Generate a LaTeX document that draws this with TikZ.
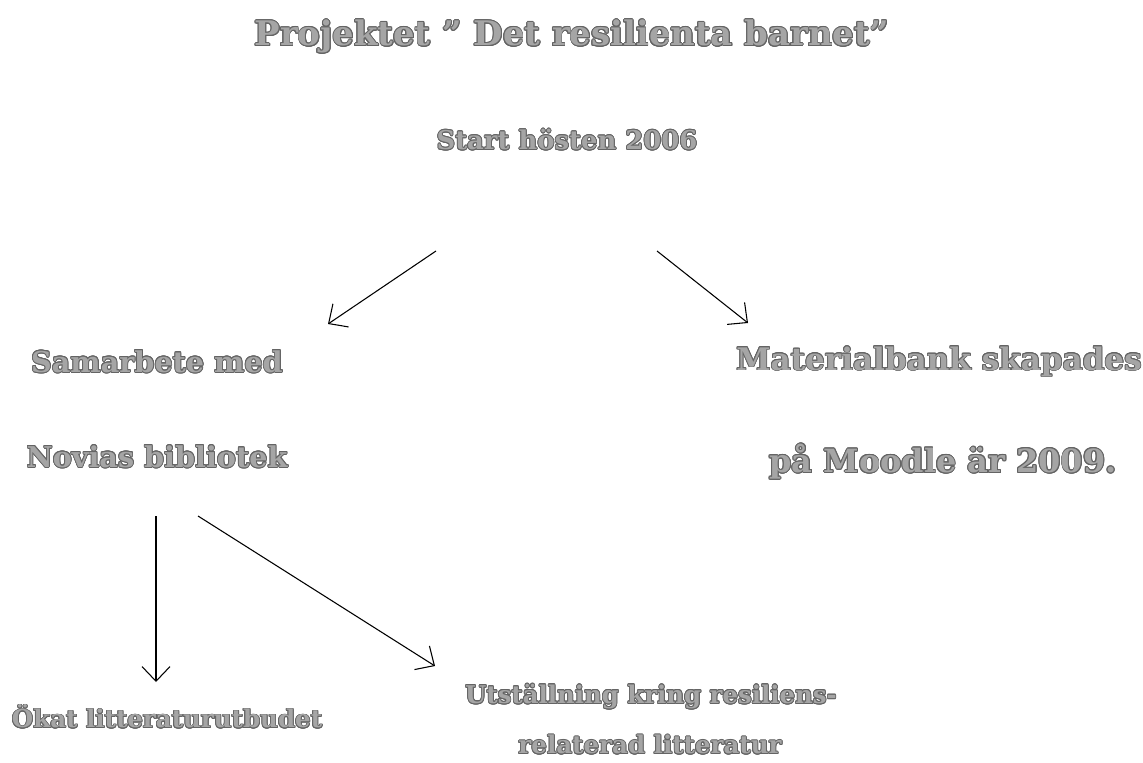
\documentclass[tikz,border=0pt]{standalone}
\usepackage{fontspec}
\setmainfont{DejaVu Serif}
\usepackage[copies]{contour}
\usetikzlibrary{arrows.meta}
\definecolor{rimgray}{RGB}{100,100,100}
\definecolor{fillgray}{RGB}{165,165,165}
\contourlength{0.6pt}
\contournumber{16}
\newcommand{\hollow}[1]{\contour{rimgray}{\textcolor{fillgray}{#1}}}

\begin{document}
\begin{tikzpicture}[
    x=0.75pt, y=-0.75pt,
    label/.style={inner sep=0pt, font=\bfseries\fontsize{#1}{1.2\dimexpr#1pt\relax}\selectfont},
    label/.default=21,
    pil/.style={-{Straight Barb[length=11pt, width=21pt]}, line width=0.8pt, black}
  ]
  \useasboundingbox (0,0) rectangle (1143,763);
  \node [label=25.4] (title) at (572,37) {\hollow{Projektet ” Det resilienta barnet”}};
  \node [label=19.4] (start) at (567,140) {\hollow{Start hösten 2006}};
  \node [label=21.5] (samarbete) at (157,362) {\hollow{Samarbete med}};
  \node [label=21.5] (novias) at (157,457) {\hollow{Novias bibliotek}};
  \node [label=23.3] (material) at (939,362) {\hollow{Materialbank skapades}};
  \node [label=24] (moodle) at (943,462) {\hollow{på Moodle är 2009.}};
  \node [label=18.4] (okat) at (167,717) {\hollow{Ökat litteraturutbudet}};
  \node [label=18.3] (utst) at (651,697) {\hollow{Utställning kring resiliens-}};
  \node [label=18.4] (relat) at (650,745) {\hollow{relaterad litteratur}};
  % start and end of the arrows
  \coordinate (a1) at (436,251);
  \coordinate (b1) at (328,324);
  \coordinate (a2) at (657,251);
  \coordinate (b2) at (748,323);
  \coordinate (a3) at (156,516);
  \coordinate (b3) at (156,682);
  \coordinate (a4) at (198,516);
  \coordinate (b4) at (435,666);
  \draw [pil] (a1) -- (b1);
  \draw [pil] (a2) -- (b2);
  \draw [pil] (a3) -- (b3);
  \draw [pil] (a4) -- (b4);
\end{tikzpicture}
\end{document}
